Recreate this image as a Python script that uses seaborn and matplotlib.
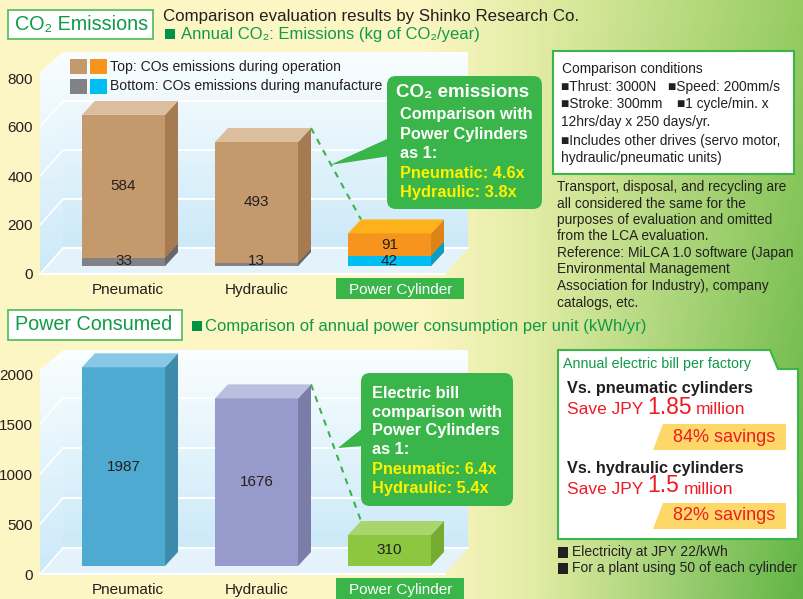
import numpy as np
import matplotlib
matplotlib.use("Agg")
import matplotlib.pyplot as plt
import seaborn as sns
from matplotlib.patches import Polygon, Rectangle, FancyBboxPatch
from matplotlib.transforms import ScaledTranslation

# ---------------- data ----------------
categories = ["Pneumatic", "Hydraulic", "Power Cylinder"]
co2_operation = [584, 493, 91]      # kg-CO2 / year, during operation
co2_manufacture = [33, 13, 42]      # kg-CO2 / year, during manufacture
power_kwh = [1987, 1676, 310]       # kWh / year per unit
co2_ticks = [0, 200, 400, 600, 800]
power_ticks = [0, 500, 1000, 1500, 2000]

# ---------------- style ----------------
sns.set_theme(style="white")
plt.rcParams["font.family"] = ["Liberation Sans", "DejaVu Sans"]

DARK = "#231f20"
GREEN = "#39b54a"
GREEN_TXT = "#0f9a48"
RED = "#ed1c24"
YELLOW_TXT = "#fff200"

op_colors = ["#c4996b", "#c4996b", "#f7941d"]
op_side = ["#a67b52", "#a67b52", "#dc8416"]
op_top = ["#dbbe9d", "#dbbe9d", "#fdb21c"]
mf_colors = ["#808285", "#808285", "#00bef2"]
mf_side = ["#67686b", "#67686b", "#0a9cc6"]
pw_colors = ["#4faad1", "#979bcb", "#8dc63f"]
pw_side = ["#3d8bab", "#7a7da8", "#74ab31"]
pw_top = ["#88c8e6", "#bcbee0", "#aad46e"]

W, H = 804, 599
fig = plt.figure(figsize=(W / 100, H / 100), dpi=100)

bg = fig.add_axes([0, 0, 1, 1], zorder=0)
bg.set_xlim(0, W)
bg.set_ylim(H, 0)
bg.axis("off")


def frac_rect(x0, y0, x1, y1):
    """pixel box (y grows downward) -> figure fraction rect"""
    return [x0 / W, 1 - y1 / H, (x1 - x0) / W, (y1 - y0) / H]


def T(x, y, s, size=10, color=DARK, weight="normal", ha="left", va="center", z=6):
    return bg.text(x, y, s, fontsize=size, color=color, fontweight=weight,
                   ha=ha, va=va, zorder=z)


# ---------------- background ----------------
xx = np.linspace(0, W, W)[None, :]
yy = np.linspace(0, H, H)[:, None]
t = np.clip((xx - 420) / 384, 0, 1)
pale = np.array([252, 246, 196]) / 255
mid = np.array([226, 236, 164]) / 255
right_top = np.array([150, 204, 98]) / 255
right_bot = np.array([96, 180, 70]) / 255
v = (yy / H)[..., None]
right = right_top * (1 - v) + right_bot * v
k = 0.3
a = np.clip(t / k, 0, 1)[..., None]
b = np.clip((t - k) / (1 - k), 0, 1)[..., None]
c1 = pale * (1 - a) + mid * a
img = c1 * (1 - b) + right * b
bg.imshow(img, extent=[0, W, H, 0], aspect="auto", zorder=0, interpolation="bilinear")


# ---------------- 3-D panel behind each chart ----------------
def panel(top, back0, front0, scale, grid_vals, xl=40, xb=63, xr=468):
    g = np.linspace(0, 1, 64)[:, None, None]
    c_top = np.array([0.98, 0.995, 1.0])
    c_bot = np.array([0.80, 0.915, 0.975])
    grad = c_top * (1 - g) + c_bot * g
    bg.imshow(grad, extent=[xb, xr, back0, top], aspect="auto", zorder=1)
    # left wall
    left = Polygon([(xl, top + 20), (xb, top), (xb, back0), (xl, front0)],
                   closed=True, transform=bg.transData)
    im = bg.imshow(grad, extent=[xl, xb, front0, top], aspect="auto", zorder=1)
    im.set_clip_path(left)
    # floor
    bg.add_patch(Polygon([(xl, front0), (xb, back0), (xr, back0), (xr - 23, front0)],
                         closed=True, fc="#e4f3fb", ec="none", zorder=1.2))
    bg.plot([xl, xr - 23], [front0, front0], color="white", lw=1.5, zorder=1.3)
    bg.plot([xb, xr], [back0, back0], color="white", lw=1.5, zorder=1.3)
    bg.plot([xl, xb], [front0, back0], color="white", lw=1.2, zorder=1.3)
    for gv in grid_vals:
        yb = back0 - gv * scale
        yf = front0 - gv * scale
        bg.plot([xb, xr], [yb, yb], color="white", lw=1.5, zorder=1.3)
        bg.plot([xl, xb], [yf, yb], color="white", lw=1.2, zorder=1.3)


panel(52, 248, 274, 0.245, [200, 400, 600])
panel(350, 548, 574, 0.1, [500, 1000, 1500])

# ---------------- axes helpers ----------------
CENTER0, STEP = 123.5, 133.0
BAR_W = 83 / STEP
XLIM = ((40 - CENTER0) / STEP, (468 - CENTER0) / STEP)
DX, DY = 13, 14


def front_axis(y0px, scale, ticks):
    top = y0px - ticks[-1] * scale
    axf = fig.add_axes(frac_rect(40, top, 468, y0px), zorder=1)
    axf.set_ylim(0, ticks[-1])
    axf.set_yticks(ticks)
    axf.set_yticklabels([str(tk) for tk in ticks])
    axf.set_xticks([])
    axf.patch.set_visible(False)
    for s in axf.spines.values():
        s.set_visible(False)
    axf.tick_params(axis="y", length=0, pad=5, labelsize=11, labelcolor=DARK)
    return axf


def bar_axes(y0px, scale, toppx):
    ax = fig.add_axes(frac_rect(40, toppx, 468, y0px), zorder=2)
    ax.patch.set_visible(False)
    for s in ax.spines.values():
        s.set_visible(False)
    return ax, (y0px - toppx) / scale


def finish_bar_axes(ax, ymax):
    ax.set_xlim(*XLIM)
    ax.set_ylim(0, ymax)
    ax.set_autoscale_on(False)
    ax.set_ylabel("")
    ax.set_xlabel("")
    ax.set_yticks([])
    ax.tick_params(axis="x", length=0, pad=12.4, labelsize=11, labelcolor=DARK)


def px(ax, x, y):
    return bg.transData.inverted().transform(ax.transData.transform((x, y)))


def extrude(ax, rect, side, top=None):
    x0, y0 = rect.get_x(), rect.get_y()
    x1, y1 = x0 + rect.get_width(), y0 + rect.get_height()
    br, tr, tl = px(ax, x1, y0), px(ax, x1, y1), px(ax, x0, y1)
    off = np.array([DX, -DY])
    ax.add_patch(Polygon([br, br + off, tr + off, tr], closed=True, fc=side, ec="none",
                         transform=bg.transData, clip_on=False))
    if top is not None:
        ax.add_patch(Polygon([tl, tl + off, tr + off, tr], closed=True, fc=top, ec="none",
                             transform=bg.transData, clip_on=False))
    return tl + off, tr + off


# ---------------- CO2 chart ----------------
front_axis(274, 0.245, co2_ticks)
ax1, ymax1 = bar_axes(266, 0.245, 40)
totals = [o + m for o, m in zip(co2_operation, co2_manufacture)]
sns.barplot(x=categories, y=totals, hue=categories, palette=op_colors, saturation=1,
            width=BAR_W, errorbar=None, legend=False, linewidth=0, ax=ax1)
n_tot = len(ax1.patches)
sns.barplot(x=categories, y=co2_manufacture, hue=categories, palette=mf_colors, saturation=1,
            width=BAR_W, errorbar=None, legend=False, linewidth=0, ax=ax1)
finish_bar_axes(ax1, ymax1)
tot_bars = sorted(ax1.patches[:n_tot], key=lambda p: p.get_x())
mf_bars = sorted(ax1.patches[n_tot:], key=lambda p: p.get_x())
co2_tops = []
for i in range(len(categories)):
    co2_tops.append(extrude(ax1, tot_bars[i], op_side[i], op_top[i]))
    extrude(ax1, mf_bars[i], mf_side[i])
    ax1.text(i, co2_manufacture[i] + co2_operation[i] / 2, str(co2_operation[i]),
             ha="center", va="center", fontsize=11, color=DARK, zorder=5)
    ax1.annotate(str(co2_manufacture[i]), (i, 0), xytext=(0, 1), textcoords="offset points",
                 ha="center", va="baseline", fontsize=11, color=DARK, zorder=5)
# dashed guide from hydraulic to power cylinder
(h_tl, h_tr), (p_tl, p_tr) = co2_tops[1], co2_tops[2]
bg.plot([h_tr[0], p_tl[0]], [h_tr[1], p_tl[1]], color=GREEN, lw=1.5,
        dashes=(3, 3), zorder=3)

# ---------------- power chart ----------------
front_axis(574, 0.1, power_ticks)
ax2, ymax2 = bar_axes(566, 0.1, 340)
sns.barplot(x=categories, y=power_kwh, hue=categories, palette=pw_colors, saturation=1,
            width=BAR_W, errorbar=None, legend=False, linewidth=0, ax=ax2)
finish_bar_axes(ax2, ymax2)
pw_bars = sorted(ax2.patches, key=lambda p: p.get_x())
pw_tops = []
for i in range(len(categories)):
    pw_tops.append(extrude(ax2, pw_bars[i], pw_side[i], pw_top[i]))
    ax2.text(i, power_kwh[i] / 2, str(power_kwh[i]), ha="center", va="center",
             fontsize=11, color=DARK, zorder=5)
(h_tl, h_tr), (p_tl, p_tr) = pw_tops[1], pw_tops[2]
bg.plot([h_tr[0], p_tl[0]], [h_tr[1], p_tl[1]], color=GREEN, lw=1.5,
        dashes=(3, 3), zorder=3)

# green label plates for the Power Cylinder category
bg.add_patch(Rectangle((336, 278), 128, 21, fc=GREEN, ec="none", zorder=2))
bg.add_patch(Rectangle((336, 578), 128, 22, fc=GREEN, ec="none", zorder=2))

fig.canvas.draw()
shifts = [4, 0, 11]
for ax in (ax1, ax2):
    for lab, sh in zip(ax.get_xticklabels(), shifts):
        lab.set_transform(lab.get_transform() + ScaledTranslation(sh / 100, 0, fig.dpi_scale_trans))
    ax.get_xticklabels()[2].set_color("white")

# ---------------- legend of CO2 chart ----------------
for (x, y, c) in [(70, 59, op_colors[0]), (90, 59, op_colors[2]),
                  (70, 79, mf_colors[0]), (90, 79, mf_colors[2])]:
    bg.add_patch(Rectangle((x, y), 17, 15, fc=c, ec="none", zorder=4))
T(110, 67, "Top: COs emissions during operation", size=10.1)
T(110, 86, "Bottom: COs emissions during manufacture", size=10.1)

# ---------------- headers ----------------
bg.add_patch(Rectangle((8, 10), 145, 29, fc="white", ec="#5cbf63", lw=1.3, zorder=4))
T(15, 25, "CO\u2082 Emissions", size=14.2, color=GREEN_TXT)
T(163, 16, "Comparison evaluation results by Shinko Research Co.", size=12.2)
bg.add_patch(Rectangle((165, 29), 10, 10, fc="#009245", ec="none", zorder=4))
T(181, 35, "Annual CO\u2082: Emissions (kg of CO\u2082/year)", size=12, color=GREEN_TXT)

bg.add_patch(Rectangle((8, 310), 174, 30, fc="white", ec="#5cbf63", lw=1.3, zorder=4))
T(15, 325, "Power Consumed", size=14.2, color=GREEN_TXT)
bg.add_patch(Rectangle((192, 321), 10, 10, fc="#009245", ec="none", zorder=4))
T(205, 326, "Comparison of annual power consumption per unit (kWh/yr)", size=12, color=GREEN_TXT)

# ---------------- callouts ----------------
bg.add_patch(FancyBboxPatch((387, 76), 155, 133, boxstyle="round,pad=0,rounding_size=9",
                            fc=GREEN, ec="none", zorder=4))
bg.add_patch(Polygon([(398, 134), (330, 165), (390, 156)], closed=True, fc=GREEN,
                     ec="none", zorder=4))
T(396, 92, "CO\u2082 emissions", size=13.5, color="white", weight="bold")
for yy_, s, c in [(115, "Comparison with", "white"), (134, "Power Cylinders", "white"),
                  (154, "as 1:", "white"), (173, "Pneumatic: 4.6x", YELLOW_TXT),
                  (192, "Hydraulic: 3.8x", YELLOW_TXT)]:
    T(400, yy_, s, size=11.8, color=c, weight="bold")

bg.add_patch(FancyBboxPatch((361, 373), 152, 133, boxstyle="round,pad=0,rounding_size=9",
                            fc=GREEN, ec="none", zorder=4))
bg.add_patch(Polygon([(364, 427), (338, 448), (364, 446)], closed=True, fc=GREEN,
                     ec="none", zorder=4))
for yy_, s, c in [(393, "Electric bill", "white"), (412, "comparison with", "white"),
                  (431, "Power Cylinders", "white"), (450, "as 1:", "white"),
                  (469, "Pneumatic: 6.4x", YELLOW_TXT), (488, "Hydraulic: 5.4x", YELLOW_TXT)]:
    T(372, yy_, s, size=11.8, color=c, weight="bold")

# ---------------- comparison conditions ----------------
bg.add_patch(Rectangle((553, 51), 241, 123, fc="white", ec=GREEN, lw=1.5, zorder=4))
T(562, 69, "Comparison conditions", size=9.9)
T(561, 87, "\u25a0Thrust: 3000N", size=9.9)
T(668, 87, "\u25a0Speed: 200mm/s", size=9.9)
T(561, 104, "\u25a0Stroke: 300mm", size=9.9)
T(677, 104, "\u25a01 cycle/min. x", size=9.9)
T(561, 122, "12hrs/day x 250 days/yr.", size=9.9)
T(561, 141, "\u25a0Includes other drives (servo motor,", size=9.9)
T(561, 158, "hydraulic/pneumatic units)", size=9.9)

notes = ["Transport, disposal, and recycling are",
         "all considered the same for the",
         "purposes of evaluation and omitted",
         "from the LCA evaluation.",
         "Reference: MiLCA 1.0 software (Japan",
         "Environmental Management",
         "Association for Industry), company",
         "catalogs, etc."]
for j, s in enumerate(notes):
    T(557, 187 + j * 16.5, s, size=9.9)

# ---------------- electric bill box ----------------
bg.add_patch(Polygon([(558, 350), (770, 350), (778, 369), (798, 369), (798, 539), (558, 539)],
                     closed=True, fc="white", ec=GREEN, lw=1.5, zorder=4))
T(563, 364, "Annual electric bill per factory", size=10.3, color=GREEN_TXT)

T(567, 389, "Vs. pneumatic cylinders", size=11.7, weight="bold")
T(567, 410, "Save JPY", size=12.5, color=RED)
T(647, 407, "1.85", size=16.5, color=RED)
T(696, 410, "million", size=12.5, color=RED)
bg.add_patch(Polygon([(663, 424), (786, 424), (786, 450), (653, 450)], closed=True,
                     fc="#fdd868", ec="none", zorder=4))
T(775, 437, "84% savings", size=13, color=RED, ha="right")

T(567, 468, "Vs. hydraulic cylinders", size=11.7, weight="bold")
T(567, 489, "Save JPY", size=12.5, color=RED)
T(647, 486, "1.5", size=16.5, color=RED)
T(684, 489, "million", size=12.5, color=RED)
bg.add_patch(Polygon([(663, 503), (786, 503), (786, 529), (653, 529)], closed=True,
                     fc="#fdd868", ec="none", zorder=4))
T(775, 516, "82% savings", size=13, color=RED, ha="right")

bg.add_patch(Rectangle((558, 547), 10, 11, fc=DARK, ec="none", zorder=4))
T(572, 552, "Electricity at JPY 22/kWh", size=10)
bg.add_patch(Rectangle((558, 563), 10, 11, fc=DARK, ec="none", zorder=4))
T(572, 568, "For a plant using 50 of each cylinder", size=10)

fig.savefig("out.png", dpi=100)
